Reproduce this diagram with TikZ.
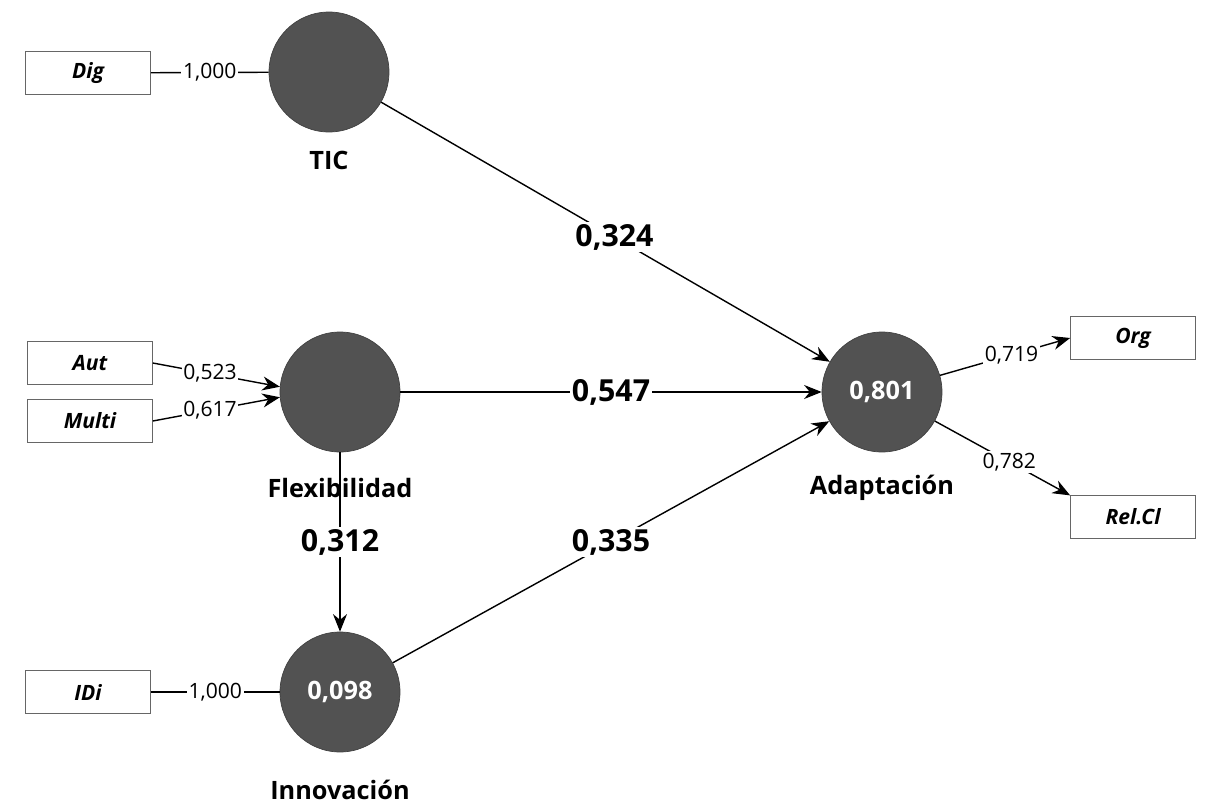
\documentclass[tikz,border=0pt]{standalone}
\usepackage{fontspec}
\setmainfont{Open Sans}
\usetikzlibrary{arrows.meta}
\begin{document}
\begin{tikzpicture}[x=0.02cm,y=-0.02cm,
  lv/.style={circle,fill=black!68,draw=black!75,minimum size=2.4cm,inner sep=0pt,text=white,font=\bfseries\Large},
  mv/.style={rectangle,draw=black!60,minimum width=2.5cm,minimum height=0.85cm,font=\bfseries\itshape\large},
  lab/.style={font=\bfseries\Large},
  w/.style={fill=white,inner sep=1pt,font=\bfseries\LARGE},
  ws/.style={fill=white,inner sep=1pt,font=\large},
  arr/.style={-{Stealth[length=10pt,width=8pt]},thick},
  ln/.style={thick}]
\useasboundingbox (0,0) rectangle (1214,808);
% latent variables
\node[lv] (tic) at (329,72) {};
\node[lv] (flex) at (340,392) {};
\node[lv] (inno) at (340,692) {0,098};
\node[lv] (adap) at (882,392) {0,801};
\node[lab] at (329,160) {TIC};
\node[lab] at (340,488) {Flexibilidad};
\node[lab] at (340,790) {Innovación};
\node[lab] at (882,488) {Adaptación};
% indicators
\node[mv] (dig) at (88,73) {Dig};
\node[mv] (aut) at (90,363) {Aut};
\node[mv] (multi) at (90,421) {Multi};
\node[mv] (idi) at (88,692) {IDi};
\node[mv] (org) at (1133,338) {Org};
\node[mv] (rel) at (1133,517) {Rel.Cl};
% outer model
\draw[ln] (dig) -- node[ws] {1,000} (tic);
\draw[ln] (idi) -- node[ws] {1,000} (inno);
\draw[arr] (aut.east) -- node[ws,pos=0.45] {0,523} (flex.175);
\draw[arr] (multi.east) -- node[ws,pos=0.45] {0,617} (flex.185);
\draw[arr] (adap) -- node[ws,pos=0.55] {0,719} (org.west);
\draw[arr] (adap) -- node[ws,pos=0.55] {0,782} (rel.north west);
% inner model
\draw[arr] (tic) -- node[w,pos=0.52] {0,324} (adap);
\draw[arr] (flex) -- node[w] {0,547} (adap);
\draw[arr] (flex) -- node[w] {0,312} (inno);
\draw[arr] (inno) -- node[w] {0,335} (adap);
\end{tikzpicture}
\end{document}
